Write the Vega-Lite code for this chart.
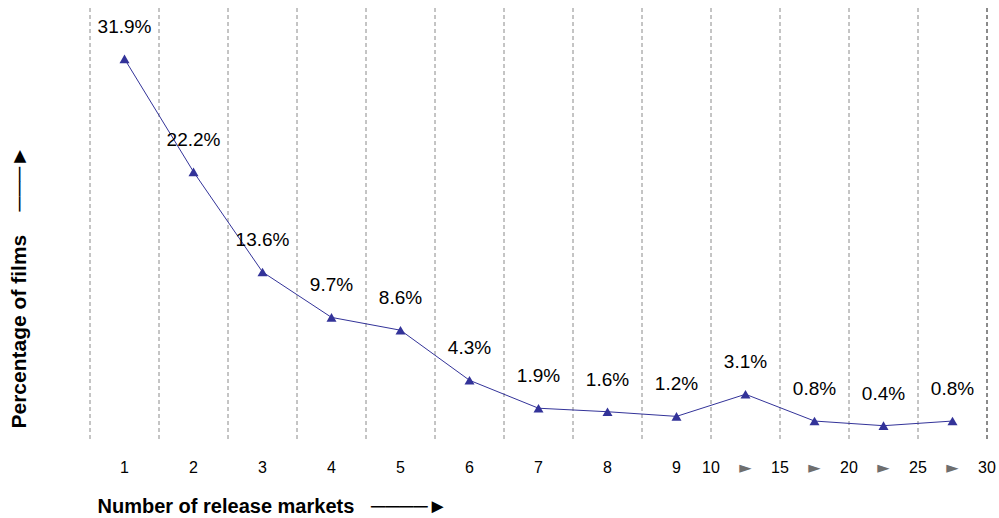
{
  "$schema": "https://vega.github.io/schema/vega-lite/v6.json",
  "width": 897,
  "height": 434,
  "autosize": "none",
  "padding": {"left": 90, "top": 8, "right": 12, "bottom": 76},
  "background": "white",
  "config": {
    "view": {"stroke": null},
    "font": "Liberation Sans, Arial, sans-serif"
  },
  "data": {
    "values": [
      {"markets": "1", "pct": 31.9, "label": "31.9%"},
      {"markets": "2", "pct": 22.2, "label": "22.2%"},
      {"markets": "3", "pct": 13.6, "label": "13.6%"},
      {"markets": "4", "pct": 9.7, "label": "9.7%"},
      {"markets": "5", "pct": 8.6, "label": "8.6%"},
      {"markets": "6", "pct": 4.3, "label": "4.3%"},
      {"markets": "7", "pct": 1.9, "label": "1.9%"},
      {"markets": "8", "pct": 1.6, "label": "1.6%"},
      {"markets": "9", "pct": 1.2, "label": "1.2%"},
      {"markets": "10–15", "pct": 3.1, "label": "3.1%"},
      {"markets": "15–20", "pct": 0.8, "label": "0.8%"},
      {"markets": "20–25", "pct": 0.4, "label": "0.4%"},
      {"markets": "25–30", "pct": 0.8, "label": "0.8%"}
    ]
  },
  "resolve": {"axis": {"x": "independent"}},
  "layer": [
    {
      "mark": {"type": "rule", "color": "#8a8a8a", "strokeWidth": 1, "strokeDash": [4, 3]},
      "encoding": {
        "x": {"field": "markets", "type": "nominal", "sort": null, "bandPosition": 0,
              "scale": {"type": "band", "paddingInner": 0, "paddingOuter": 0}, "axis": null}
      }
    },
    {
      "mark": {"type": "rule", "color": "#8a8a8a", "strokeWidth": 1, "strokeDash": [4, 3]},
      "encoding": {
        "x": {"datum": "25–30", "type": "nominal", "bandPosition": 1, "axis": null}
      }
    },
    {
      "mark": {"type": "line", "color": "#333399", "strokeWidth": 1},
      "encoding": {
        "x": {"field": "markets", "type": "nominal", "sort": null,
              "scale": {"type": "band", "paddingInner": 0, "paddingOuter": 0},
              "axis": {
                "orient": "bottom",
                "domain": false, "ticks": false, "tickSize": 0, "grid": false,
                "labelAngle": 0, "labelFontSize": 16, "labelPadding": 30,
                "labelBaseline": "alphabetic", "labelOverlap": false, "labelBound": false, "labelFlush": false,
                "labelExpr": "indexof(['10–15','15–20','20–25','25–30'], datum.value) >= 0 ? '\u00a0\u00a0►' : datum.value",
                "labelColor": {"condition": {"test": "indexof(['10–15','15–20','20–25','25–30'], datum.value) >= 0", "value": "#6e6e6e"}, "value": "#000000"},
                "labelFont": {"condition": {"test": "indexof(['10–15','15–20','20–25','25–30'], datum.value) >= 0", "value": "DejaVu Sans"}, "value": "Liberation Sans"},
                "title": "Number of release markets\u00a0\u00a0\u00a0────►",
                "titleFontSize": 20, "titleFontWeight": "bold", "titleColor": "#000000",
                "titleX": 7, "titleY": 70, "titleAlign": "left", "titleBaseline": "alphabetic", "titleAnchor": "start"
              }},
        "y": {"field": "pct", "type": "quantitative",
              "scale": {"domain": [-1, 36.27], "nice": false, "zero": false},
              "axis": {"domain": false, "ticks": false, "labels": false, "grid": false,
                       "title": "Percentage of films\u00a0\u00a0\u00a0\u00a0───►",
                       "titleFontSize": 21, "titleFontWeight": "bold", "titleColor": "#000000",
                       "titleAngle": -90, "titleX": -65, "titleY": 420, "titleAlign": "left", "titleBaseline": "alphabetic", "titleAnchor": "start"}}
      }
    },
    {
      "mark": {"type": "point", "shape": "triangle-up", "filled": true, "color": "#333399", "size": 100, "opacity": 1},
      "encoding": {
        "x": {"field": "markets", "type": "nominal", "sort": null,
              "axis": {
                "orient": "bottom",
                "domain": false, "ticks": false, "tickSize": 0, "grid": false,
                "labelAngle": 0, "labelFontSize": 16, "labelPadding": 30, "labelColor": "#000000", "labelOffset": 34.5,
                "labelBaseline": "alphabetic", "labelOverlap": false, "labelBound": false, "labelFlush": false,
                "labelExpr": "datum.value == '9' ? '10' : datum.value == '10–15' ? '15' : datum.value == '15–20' ? '20' : datum.value == '20–25' ? '25' : datum.value == '25–30' ? '30' : ''",
                "title": null
              }},
        "y": {"field": "pct", "type": "quantitative",
              "axis": {"domain": false, "ticks": false, "labels": false, "grid": false,
                       "title": "Percentage of films\u00a0\u00a0\u00a0\u00a0───►",
                       "titleFontSize": 21, "titleFontWeight": "bold", "titleColor": "#000000",
                       "titleAngle": -90, "titleX": -65, "titleY": 420, "titleAlign": "left", "titleBaseline": "alphabetic", "titleAnchor": "start"}}
      }
    },
    {
      "mark": {"type": "text", "fontSize": 19, "color": "#000000", "baseline": "alphabetic", "dy": -26},
      "encoding": {
        "x": {"field": "markets", "type": "nominal", "sort": null, "axis": null},
        "y": {"field": "pct", "type": "quantitative",
              "axis": {"domain": false, "ticks": false, "labels": false, "grid": false,
                       "title": "Percentage of films\u00a0\u00a0\u00a0\u00a0───►",
                       "titleFontSize": 21, "titleFontWeight": "bold", "titleColor": "#000000",
                       "titleAngle": -90, "titleX": -65, "titleY": 420, "titleAlign": "left", "titleBaseline": "alphabetic", "titleAnchor": "start"}},
        "text": {"field": "label"}
      }
    }
  ]
}
